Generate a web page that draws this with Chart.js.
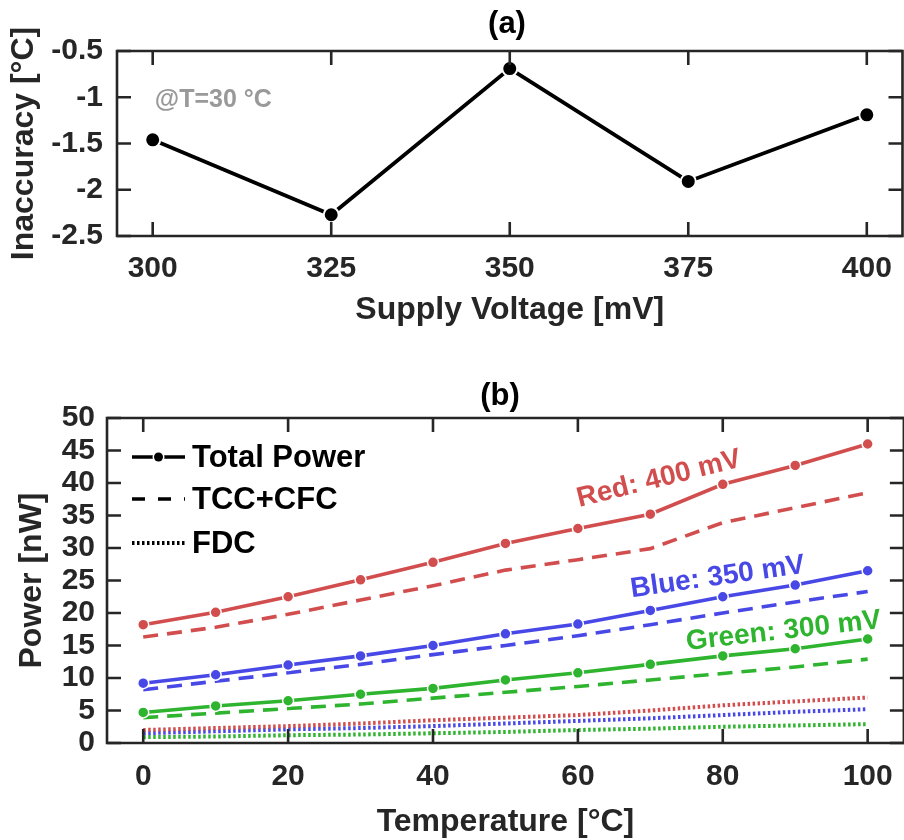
<!DOCTYPE html>
<html><head><meta charset="utf-8">
<script src="https://cdn.jsdelivr.net/npm/chart.js@4.4.1/dist/chart.umd.min.js"></script>
<style>
html,body{margin:0;padding:0;background:#fff;overflow:hidden;width:904px;height:840px;}
#wrap{position:relative;width:904px;height:840px;overflow:hidden;background:#fff;}
#ca{position:absolute;left:0;top:0;}
#cb{position:absolute;left:0;top:360px;}
</style></head><body>
<div id="wrap"><canvas id="ca" width="912" height="345"></canvas><canvas id="cb" width="912" height="480"></canvas></div>
<script>
// ---------- Panel (a) data ----------
const supplyVoltage = [300, 325, 350, 375, 400];
const inaccuracy = [-1.46, -2.27, -0.69, -1.91, -1.19];
const aXTicks = [300, 325, 350, 375, 400];
const aYTicks = [-2.5, -2, -1.5, -1, -0.5];
const aYTickLabels = ['-2.5', '-2', '-1.5', '-1', '-0.5'];

// ---------- Panel (b) data ----------
const temperature = [0, 10, 20, 30, 40, 50, 60, 70, 80, 90, 100];
const redTotal   = [18.2, 20.1, 22.5, 25.1, 27.8, 30.7, 33.0, 35.2, 39.8, 42.7, 46.0];
const redTcc     = [16.3, 17.8, 19.8, 22.0, 24.2, 26.6, 28.2, 29.9, 33.9, 36.2, 38.5];
const redFdc     = [2.0, 2.3, 2.6, 3.0, 3.5, 3.9, 4.3, 5.0, 5.8, 6.4, 7.0];
const blueTotal  = [9.2, 10.5, 12.0, 13.4, 15.0, 16.8, 18.3, 20.4, 22.5, 24.3, 26.5];
const blueTcc    = [8.2, 9.5, 10.8, 12.1, 13.6, 15.0, 16.5, 18.2, 20.0, 21.7, 23.3];
const blueFdc    = [1.5, 1.8, 2.1, 2.3, 2.6, 3.0, 3.4, 3.8, 4.3, 4.8, 5.2];
const greenTotal = [4.7, 5.7, 6.5, 7.5, 8.4, 9.7, 10.8, 12.1, 13.4, 14.5, 16.0];
const greenTcc   = [3.9, 4.6, 5.3, 6.0, 6.9, 7.8, 8.7, 9.7, 10.7, 11.7, 12.9];
const greenFdc   = [0.9, 1.0, 1.2, 1.3, 1.5, 1.7, 2.0, 2.2, 2.5, 2.7, 2.9];
const bXTicks = [0, 20, 40, 60, 80, 100];
const bYTicks = [0, 5, 10, 15, 20, 25, 30, 35, 40, 45, 50];
const legendLabels = ['Total Power', 'TCC+CFC', 'FDC'];
const seriesLabels = ['Red: 400 mV', 'Blue: 350 mV', 'Green: 300 mV'];

// ---------- styling ----------
const FAM = '"Liberation Sans", Arial, Helvetica, sans-serif';
const AX = '#262626';
const RED = '#d24e4e', BLUE = '#4848e6', GREEN = '#2eb42e';

function pts(xs, ys) { return xs.map((x, i) => ({x: x, y: ys[i]})); }

const frameTicks = {
  id: 'frameTicks',
  afterDatasetsDraw(chart) {
    const {ctx, chartArea: {left, right, top, bottom}, scales: {x, y}} = chart;
    ctx.save();
    ctx.strokeStyle = AX; ctx.lineWidth = 2.6; ctx.setLineDash([]);
    ctx.beginPath(); ctx.rect(left, top, right - left, bottom - top); ctx.stroke();
    const L = 14;
    ctx.beginPath();
    x.ticks.forEach((t, i) => { const p = x.getPixelForTick(i);
      ctx.moveTo(p, bottom); ctx.lineTo(p, bottom - L); ctx.moveTo(p, top); ctx.lineTo(p, top + L); });
    y.ticks.forEach((t, i) => { const p = y.getPixelForTick(i);
      ctx.moveTo(left, p); ctx.lineTo(left + L, p); ctx.moveTo(right, p); ctx.lineTo(right - L, p); });
    ctx.stroke();
    ctx.restore();
  }
};

const panelTitle = {
  id: 'panelTitle',
  afterDraw(chart, args, o) {
    const ctx = chart.ctx;
    ctx.save();
    ctx.font = 'bold ' + o.size + 'px ' + FAM; ctx.fillStyle = '#000';
    ctx.textAlign = 'center'; ctx.textBaseline = 'middle';
    ctx.fillText(o.text, o.x, o.y);
    ctx.restore();
  }
};

const textNotes = {
  id: 'textNotes',
  afterDatasetsDraw(chart, args, o) {
    const {ctx, scales: {x, y}} = chart;
    (o.items || []).forEach(it => {
      ctx.save();
      ctx.font = 'bold ' + it.size + 'px ' + FAM; ctx.fillStyle = it.color;
      ctx.textAlign = it.align || 'center'; ctx.textBaseline = 'middle';
      ctx.translate(x.getPixelForValue(it.x), y.getPixelForValue(it.y));
      ctx.rotate(-(it.angle || 0) * Math.PI / 180);
      ctx.fillText(it.text, 0, 0);
      ctx.restore();
    });
  }
};

const styleLegend = {
  id: 'styleLegend',
  afterDatasetsDraw(chart, args, o) {
    const {ctx, chartArea: {left, top}} = chart;
    if (!o.rows) return;
    const x0 = left + 25, x1 = left + 78, tx = left + 85;
    ctx.save();
    ctx.strokeStyle = '#000'; ctx.fillStyle = '#000'; ctx.lineWidth = 3.6;
    o.rows.forEach((r, i) => {
      const yy = top + r.dy;
      ctx.beginPath(); ctx.setLineDash(r.dash); ctx.lineWidth = r.width || 3.6;
      ctx.moveTo(x0, yy); ctx.lineTo(x1, yy); ctx.stroke();
      if (r.marker) {
        ctx.setLineDash([]);
        const cx = (x0 + x1) / 2;
        ctx.beginPath(); ctx.fillStyle = '#fff'; ctx.arc(cx, yy, 6, 0, Math.PI * 2); ctx.fill();
        ctx.beginPath(); ctx.fillStyle = '#000'; ctx.arc(cx, yy, 4.5, 0, Math.PI * 2); ctx.fill();
      }
      ctx.setLineDash([]);
      ctx.font = 'bold 31px ' + FAM; ctx.textAlign = 'left'; ctx.textBaseline = 'middle';
      ctx.fillText(r.text, tx, yy + 1);
    });
    ctx.restore();
  }
};

// ---------- Chart (a) ----------
new Chart(document.getElementById('ca'), {
  type: 'scatter',
  data: { datasets: [{
    data: pts(supplyVoltage, inaccuracy), showLine: true,
    borderColor: '#000', borderWidth: 3.8, tension: 0,
    pointRadius: 7.5, pointBackgroundColor: '#000', pointBorderColor: '#fff', pointBorderWidth: 2
  }]},
  options: {
    responsive: false, animation: false, devicePixelRatio: 1,
    layout: { padding: { top: 51, right: 5, bottom: 0, left: 0 } },
    plugins: {
      legend: { display: false }, tooltip: { enabled: false }, title: { display: false },
      panelTitle: { text: '(a)', x: 507, y: 24, size: 31 },
      textNotes: { items: [{ text: '@T=30 °C', x: 300.3, y: -1.03, size: 25, color: '#999999', align: 'left' }] }
    },
    scales: {
      x: { type: 'linear', min: 295, max: 405,
        afterBuildTicks: s => { s.ticks = aXTicks.map(v => ({ value: v })); },
        afterFit: s => { s.height = 109; },
        grid: { display: false, drawTicks: false }, border: { display: false },
        ticks: { autoSkip: false, maxRotation: 0, padding: 18, color: AX,
          font: { family: FAM, size: 30, weight: 'bold', lineHeight: 1 }, callback: v => String(v) },
        title: { display: true, text: 'Supply Voltage [mV]', color: AX, padding: { top: 0, bottom: 18.5 },
          font: { family: FAM, size: 32, weight: 'bold', lineHeight: 1 } } },
      y: { type: 'linear', min: -2.5, max: -0.5,
        afterBuildTicks: s => { s.ticks = aYTicks.map(v => ({ value: v })); },
        afterFit: s => { s.width = 117; },
        grid: { display: false, drawTicks: false }, border: { display: false },
        ticks: { autoSkip: false, padding: 14, color: AX,
          font: { family: FAM, size: 30, weight: 'bold', lineHeight: 1 },
          callback: v => aYTickLabels[aYTicks.indexOf(v)] },
        title: { display: true, text: 'Inaccuracy [°C]', color: AX, padding: { top: 8.5, bottom: 0 },
          font: { family: FAM, size: 32, weight: 'bold', lineHeight: 1 } } }
    }
  },
  plugins: [frameTicks, panelTitle, textNotes]
});

// ---------- Chart (b) ----------
function solid(ys, c) { return { data: pts(temperature, ys), showLine: true, borderColor: c, borderWidth: 3.6, tension: 0,
  pointRadius: 5.5, pointBackgroundColor: c, pointBorderColor: '#fff', pointBorderWidth: 1.5 }; }
function dashed(ys, c) { return { data: pts(temperature, ys), showLine: true, borderColor: c, borderWidth: 3.6, tension: 0,
  borderDash: [15, 9], pointRadius: 0 }; }
function dotted(ys, c) { return { data: pts(temperature, ys), showLine: true, borderColor: c, borderWidth: 4, tension: 0,
  borderDash: [2.5, 2.5], pointRadius: 0 }; }

new Chart(document.getElementById('cb'), {
  type: 'scatter',
  data: { datasets: [
    solid(redTotal, RED), solid(blueTotal, BLUE), solid(greenTotal, GREEN),
    dashed(redTcc, RED), dashed(blueTcc, BLUE), dashed(greenTcc, GREEN),
    dotted(redFdc, RED), dotted(blueFdc, BLUE), dotted(greenFdc, GREEN)
  ]},
  options: {
    responsive: false, animation: false, devicePixelRatio: 1,
    layout: { padding: { top: 58, right: 6, bottom: 0, left: 0 } },
    plugins: {
      legend: { display: false }, tooltip: { enabled: false }, title: { display: false },
      panelTitle: { text: '(b)', x: 500, y: 36, size: 31 },
      styleLegend: { rows: [
        { text: legendLabels[0], dy: 39, dash: [], marker: true },
        { text: legendLabels[1], dy: 81, dash: [13, 13] },
        { text: legendLabels[2], dy: 125, dash: [2.5, 2.5], width: 4 } ] },
      textNotes: { items: [
        { text: seriesLabels[0], x: 71.2, y: 40.6, size: 28, color: RED, angle: 14 },
        { text: seriesLabels[1], x: 79.3, y: 25.5, size: 28, color: BLUE, angle: 8 },
        { text: seriesLabels[2], x: 88.4, y: 17.2, size: 28, color: GREEN, angle: 6.5 } ] }
    },
    scales: {
      x: { type: 'linear', min: -5, max: 105,
        afterBuildTicks: s => { s.ticks = bXTicks.map(v => ({ value: v })); },
        afterFit: s => { s.height = 97; },
        grid: { display: false, drawTicks: false }, border: { display: false },
        ticks: { autoSkip: false, maxRotation: 0, padding: 19, color: AX,
          font: { family: FAM, size: 30, weight: 'bold', lineHeight: 1 }, callback: v => String(v) },
        title: { display: true, text: 'Temperature [°C]', color: AX, padding: { top: 0, bottom: 1.5 },
          font: { family: FAM, size: 32, weight: 'bold', lineHeight: 1 } } },
      y: { type: 'linear', min: 0, max: 50,
        afterBuildTicks: s => { s.ticks = bYTicks.map(v => ({ value: v })); },
        afterFit: s => { s.width = 107; },
        grid: { display: false, drawTicks: false }, border: { display: false },
        ticks: { autoSkip: false, padding: 12, color: AX,
          font: { family: FAM, size: 30, weight: 'bold', lineHeight: 1 }, callback: v => String(v) },
        title: { display: true, text: 'Power [nW]', color: AX, padding: { top: 16.5, bottom: 0 },
          font: { family: FAM, size: 32, weight: 'bold', lineHeight: 1 } } }
    }
  },
  plugins: [frameTicks, panelTitle, textNotes, styleLegend]
});
</script>
</body></html>
